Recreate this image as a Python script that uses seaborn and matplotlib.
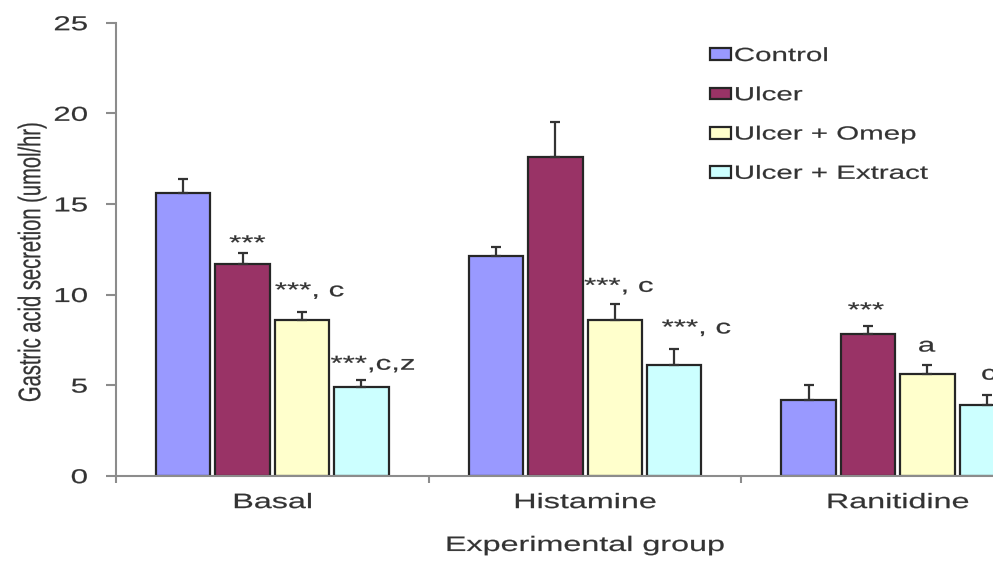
import numpy as np
import pandas as pd
import matplotlib
matplotlib.use("Agg")
import matplotlib.pyplot as plt
import seaborn as sns
from matplotlib.patheffects import AbstractPathEffect
from matplotlib.transforms import Affine2D
from matplotlib.ticker import FixedLocator

# ---- data -------------------------------------------------------------
groups = ["Basal", "Histamine", "Ranitidine"]
treatments = ["Control", "Ulcer", "Ulcer + Omep", "Ulcer + Extract"]

control = [15.6, 12.1, 4.2]
ulcer = [11.7, 17.6, 7.8]
omep = [8.6, 8.6, 5.6]
extract = [4.9, 6.1, 3.9]

control_err = [0.8, 0.5, 0.8]
ulcer_err = [0.6, 1.9, 0.45]
omep_err = [0.45, 0.85, 0.5]
extract_err = [0.4, 0.9, 0.55]

# significance marks: (group index, treatment index, text)
marks = [
    (0, 1, "***"),
    (0, 2, "***, c"),
    (0, 3, "***,c,z"),
    (1, 2, "***, c"),
    (1, 3, "***, c"),
    (2, 1, "***"),
    (2, 2, "a"),
    (2, 3, "c"),
]
# placement of each mark (x in data units, baseline y, alignment)
mark_pos = [
    (-0.080, 12.5, "center"),
    (0.008, 9.9, "left"),
    (0.186, 5.85, "left"),
    (0.997, 10.15, "left"),
    (1.245, 7.85, "left"),
    (1.898, 8.8, "center"),
    (2.092, 6.85, "center"),
    (2.266, 5.3, "left"),
]

colors = ["#9999FF", "#993366", "#FFFFCC", "#CCFFFF"]
TEXT = "#333333"
AXIS = "#8c8c8c"
WIDE = 1.55


class Widen(AbstractPathEffect):
    """Draw glyphs stretched along one local axis (wide lettering),
    with a thin outline of the same colour to give them more weight."""

    def __init__(self, factor=WIDE, anchor="center", axis="x", weight=0.15):
        super().__init__()
        self.factor = factor
        self.anchor = anchor
        self.axis = axis
        self.weight = weight

    def draw_path(self, renderer, gc, tpath, affine, rgbFace=None):
        v = tpath.vertices
        if len(v) == 0:
            return
        col = 0 if self.axis == "x" else 1
        lo, hi = v[:, col].min(), v[:, col].max()
        c = {"zero": 0.0, "min": lo, "max": hi, "center": (lo + hi) / 2}[self.anchor]
        if self.axis == "x":
            pre = Affine2D().translate(-c, 0).scale(self.factor, 1).translate(c, 0)
        else:
            pre = Affine2D().translate(0, -c).scale(1, self.factor).translate(0, c)
        gc0 = renderer.new_gc()
        gc0.copy_properties(gc)
        if rgbFace is not None:
            gc0.set_foreground(rgbFace)
        gc0.set_linewidth(self.weight)
        renderer.draw_path(gc0, tpath, pre + affine, rgbFace)
        gc0.restore()


sns.set_theme(style="white")
plt.rcParams["font.family"] = ["Liberation Sans", "DejaVu Sans"]

df = pd.DataFrame({
    "group": np.repeat(groups, len(treatments)),
    "treatment": treatments * len(groups),
    "value": np.array([control, ulcer, omep, extract]).T.ravel(),
})
errs = {
    "Control": control_err,
    "Ulcer": ulcer_err,
    "Ulcer + Omep": omep_err,
    "Ulcer + Extract": extract_err,
}

fig = plt.figure(figsize=(9.93, 5.61), dpi=100)
ax = fig.add_axes([116 / 993, (561 - 475.7) / 561, 877 / 993, 453 / 561])

sns.barplot(
    data=df, x="group", y="value", hue="treatment",
    order=groups, hue_order=treatments, palette=colors,
    width=0.76, gap=0.084, errorbar=None,
    edgecolor="#262626", linewidth=1.6, saturation=1, legend=False, ax=ax,
)

bar_sets = list(ax.containers)[:len(treatments)]

# upper-only error bars on top of each bar
for name, cont in zip(treatments, bar_sets):
    xs = [p.get_x() + p.get_width() / 2 for p in cont.patches]
    hs = [p.get_height() for p in cont.patches]
    e = errs[name]
    ax.errorbar(xs, hs, yerr=[np.zeros(len(e)), e], fmt="none",
                ecolor="#333333", elinewidth=1.6, capsize=3.3, capthick=1.6,
                zorder=1)

# significance letters
for (gi, ti, txt), (mx, my, ha) in zip(marks, mark_pos):
    anchor = "zero" if ha == "left" else "center"
    ax.text(mx, my, txt, ha=ha, va="baseline", fontsize=14.5, color=TEXT,
            path_effects=[Widen(anchor=anchor)], clip_on=False)

# axes, ticks and labels
ax.set_xlim(-0.5, -0.5 + 877 / 312.7)
ax.set_ylim(0, 25)
ax.set_yticks([0, 5, 10, 15, 20, 25])
ax.xaxis.set_minor_locator(FixedLocator([-0.5, 0.5, 1.5, 2.5]))
ax.tick_params(axis="x", which="major", length=0, pad=12.5,
               labelsize=15, labelcolor=TEXT)
ax.tick_params(axis="x", which="minor", length=5, width=1.5,
               color=AXIS, direction="out", bottom=True)
ax.tick_params(axis="y", which="major", length=7, width=1.5, color=AXIS,
               direction="out", left=True, pad=13.5, labelsize=14.5,
               labelcolor=TEXT)

for s in ["top", "right"]:
    ax.spines[s].set_visible(False)
for s in ["left", "bottom"]:
    ax.spines[s].set_color(AXIS)
    ax.spines[s].set_linewidth(1.5)

ax.set_xlabel("Experimental group", fontsize=15, color=TEXT,
              path_effects=[Widen(anchor="center")])
ax.xaxis.set_label_coords((585 - 116) / 877, -0.133)
ax.xaxis.label.set_va("top")

ax.set_ylabel("Gastric acid secretion (umol/hr)", fontsize=14.5, color=TEXT,
              path_effects=[Widen(anchor="min", axis="y")])
ax.yaxis.set_label_coords((46.5 - 116) / 877, 0.472)

for lab in ax.get_xticklabels():
    lab.set_path_effects([Widen(anchor="center")])
for lab in ax.get_yticklabels():
    lab.set_path_effects([Widen(anchor="max")])

leg = ax.legend(
    bar_sets, treatments, loc="upper left",
    bbox_to_anchor=(710 / 993, 1 - 48 / 561), bbox_transform=fig.transFigure,
    frameon=False, fontsize=13.7, handlelength=1.09, handleheight=0.58,
    handletextpad=0.16, labelspacing=1.17, borderpad=0, borderaxespad=0,
)
for t in leg.get_texts():
    t.set_color(TEXT)
    t.set_path_effects([Widen(anchor="zero")])

fig.savefig("out.png", dpi=100)
